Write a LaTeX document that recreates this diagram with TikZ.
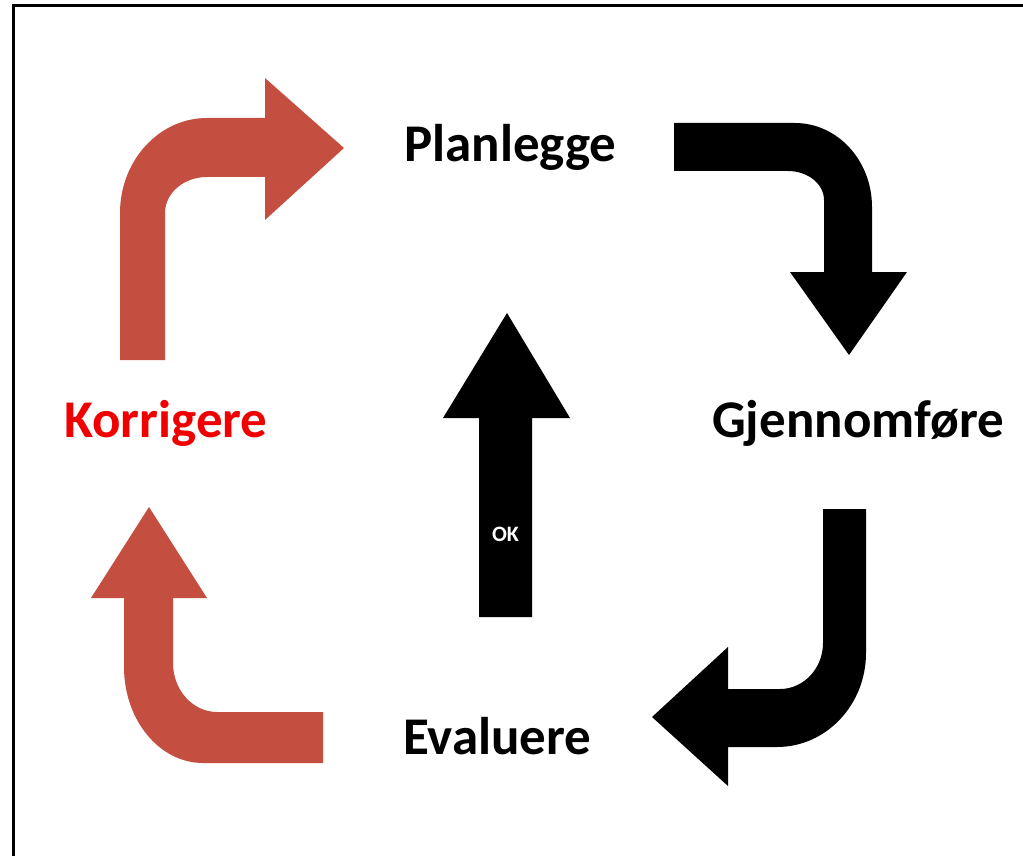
\documentclass[tikz,border=0pt]{standalone}
\usepackage{fontspec}
\setmainfont{Carlito}
\definecolor{arrowred}{HTML}{C44E40}
\definecolor{textred}{HTML}{F00000}
\begin{document}
\begin{tikzpicture}[x=1pt,y=-1pt,
  lbl/.style={anchor=base west,inner sep=0pt,font=\fontsize{53}{60}\selectfont\bfseries},
  redarrow/.style={fill=arrowred,draw=none},
  blackarrow/.style={fill=black,draw=none}]
\useasboundingbox (0,0) rectangle (1023,856);
\fill[white] (0,0) rectangle (1023,856);
% frame
\draw[line width=3pt] (13,856) -- (13,6) -- (1023,6);
% red top-left arrow
\path[redarrow] (120,360) -- (120,213) .. controls (120,160.6) and (159,118) .. (207,118)
  -- (265,118) -- (265,78) -- (344,148) -- (265,220) -- (265,177) -- (207,177)
  .. controls (183.8,177) and (165,193) .. (165,213) -- (165,360) -- cycle;
% black top-right arrow
\path[blackarrow] (674,123) -- (795,123) .. controls (837.5,123) and (872,160.6) .. (872,207)
  -- (872,272) -- (907,272) -- (849,355) -- (790,272) -- (824,272) -- (824,200)
  .. controls (824,184) and (807.9,171) .. (788,171) -- (674,171) -- cycle;
% black bottom-right arrow
\path[blackarrow] (823,509) -- (866,509) -- (866,653) .. controls (866,704.9) and (826.1,747) .. (777,747)
  -- (728,747) -- (728,786) -- (652,717) -- (728,647) -- (728,689) -- (780,689)
  .. controls (803.7,689) and (823,668.4) .. (823,643) -- cycle;
% red bottom-left arrow
\path[redarrow] (149,507) -- (207,598) -- (173,598) -- (173,663)
  .. controls (173,690) and (192.7,712) .. (217,712) -- (323,712) -- (323,763) -- (203,763)
  .. controls (159.4,763) and (124,720) .. (124,667) -- (124,598) -- (91,598) -- cycle;
% OK arrow
\path[blackarrow] (507,313) -- (570,418) -- (532,418) -- (532,617) -- (479,617) -- (479,418) -- (443,418) -- cycle;
\node[anchor=base,inner sep=0pt,text=white,font=\fontsize{22}{26}\selectfont\bfseries] (ok) at (505.5,541) {OK};
% labels
\node[lbl] (plan) at (404,162) {Planlegge};
\node[lbl] (gjen) at (712,437) {Gjennomføre};
\node[lbl,text=textred] (korr) at (64,437) {Korrigere};
\node[lbl] (eval) at (403,754) {Evaluere};
\end{tikzpicture}
\end{document}
